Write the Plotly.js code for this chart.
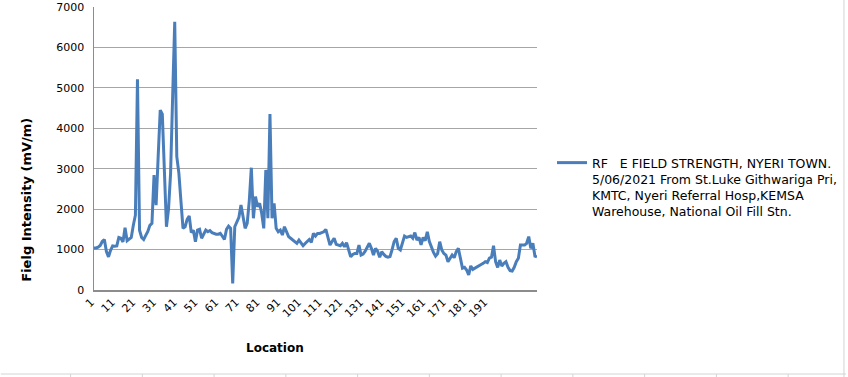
<!DOCTYPE html>
<html>
<head>
<meta charset="utf-8">
<script src="https://cdn.plot.ly/plotly-3.0.1.min.js"></script>
<style>html,body{margin:0;padding:0;background:#fff;}#chart{width:848px;height:377px;}</style>
</head>
<body>
<div id="chart"></div>
<script>
// Field intensity readings (mV/m), one per location
const fieldValues = [
  1040,1040,1060,1100,1200,1250,950,820,980,1090,
  1080,1090,1300,1280,1190,1540,1220,1250,1300,1600,
  1850,5210,1480,1300,1250,1350,1450,1600,1650,2840,
  2100,3300,4450,4350,3000,1565,2000,2885,4800,6635,
  3300,2890,2200,1525,1560,1750,1830,1420,1480,1195,
  1480,1500,1280,1400,1480,1440,1470,1420,1390,1380,
  1380,1400,1330,1250,1500,1580,1525,165,1565,1700,
  1800,2100,1800,1525,1650,2200,3025,1775,2310,2060,
  2145,1900,1525,2970,1775,4350,1775,2145,1525,1440,
  1480,1360,1565,1420,1320,1280,1235,1180,1155,1235,
  1150,1095,1150,1195,1250,1180,1400,1335,1400,1400,
  1420,1440,1500,1280,1110,1200,1280,1130,1110,1095,
  1155,1070,1170,1000,820,880,905,905,1110,865,
  890,960,1050,1155,1030,865,1030,960,810,945,
  880,830,810,825,1000,1200,1280,1030,990,1155,
  1335,1300,1320,1335,1280,1420,1235,1300,1120,1300,
  1220,1440,1200,1050,930,840,900,1195,990,905,
  865,700,785,865,800,950,1030,780,540,560,
  495,370,595,510,535,560,595,630,660,700,
  680,790,810,1095,700,560,740,595,660,700,
  560,480,470,560,700,785,1110,1110,1110,1155,
  1320,1030,1155,840,820
];
const locations = fieldValues.map((v, i) => i + 1);
const xTickValues = [1,11,21,31,41,51,61,71,81,91,101,111,121,131,141,151,161,171,181,191];
const xTickLabels = ["1","11","21","31","41","51","61","71","81","91","101","111","121","131","141","151","161","171","181","191"];
const seriesName = "RF   E FIELD STRENGTH, NYERI TOWN.<br>5/06/2021 From St.Luke Githwariga Pri,<br>KMTC, Nyeri Referral Hosp,KEMSA<br>Warehouse, National Oil Fill Stn.";

const W = 848, H = 377;
const L = 93.5, R = 538, T = 7, B = 290;
function px(x){ return (x - L) / (R - L); }
function py(y){ return (B - y) / (B - T); }

const shapes = [];
const sheetLineColor = "#d4d4d4";
shapes.push({type:"line", xref:"paper", yref:"paper", x0:px(0), x1:px(848), y0:py(374), y1:py(374), line:{color:sheetLineColor, width:1}});
[70,142,214,286,358,430,502,574,646,718,790].forEach(x => {
  shapes.push({type:"line", xref:"paper", yref:"paper", x0:px(x), x1:px(x), y0:py(374), y1:py(377), line:{color:sheetLineColor, width:1}});
});
shapes.push({type:"line", xref:"paper", yref:"paper", x0:px(846), x1:px(846), y0:py(0), y1:py(377), line:{color:sheetLineColor, width:1}});

const trace = {
  x: locations,
  y: fieldValues,
  type: "scatter",
  mode: "lines",
  name: seriesName,
  line: {color: "#4a7ebb", width: 3}
};

const layout = {
  width: W, height: H,
  margin: {l: L, r: W - R, t: T, b: H - B, pad: 0},
  paper_bgcolor: "#ffffff",
  plot_bgcolor: "#ffffff",
  font: {family: "DejaVu Sans", size: 11, color: "#000000"},
  showlegend: true,
  legend: {
    x: px(552), xanchor: "left",
    y: py(148), yanchor: "top",
    valign: "top",
    font: {family: "DejaVu Sans", size: 12.5, color: "#000"},
    bgcolor: "rgba(0,0,0,0)",
    borderwidth: 0
  },
  xaxis: {
    range: [1, locations.length],
    tickmode: "array",
    tickvals: xTickValues,
    ticktext: xTickLabels,
    tickangle: -45,
    ticklabelshift: -3,
    showgrid: false,
    zeroline: false,
    showline: true,
    linecolor: "#8c8c8c",
    linewidth: 1.5,
    ticks: "",
    tickfont: {family: "DejaVu Sans", size: 11, color: "#000"},
    automargin: false
  },
  yaxis: {
    range: [0, 7000],
    dtick: 1000,
    tick0: 0,
    showgrid: true,
    gridcolor: "#a6a6a6",
    gridwidth: 1,
    zeroline: false,
    showline: true,
    linecolor: "#8c8c8c",
    linewidth: 1.5,
    ticks: "",
    ticklabelstandoff: 6,
    tickfont: {family: "DejaVu Sans", size: 11, color: "#000"},
    automargin: false
  },
  annotations: [
    {text: "<b>Location</b>", xref: "paper", yref: "paper", x: px(275.5), y: py(348), xanchor: "center", yanchor: "middle", showarrow: false, font: {family: "DejaVu Sans", size: 12, color: "#000"}},
    {text: "<b>Fielg Intensity (mV/m)</b>", xref: "paper", yref: "paper", x: px(25), y: py(200), xanchor: "center", yanchor: "middle", textangle: -90, showarrow: false, font: {family: "DejaVu Sans", size: 13, color: "#000"}}
  ],
  shapes: shapes
};

Plotly.newPlot("chart", [trace], layout, {displayModeBar: false, staticPlot: true});
</script>
</body>
</html>
